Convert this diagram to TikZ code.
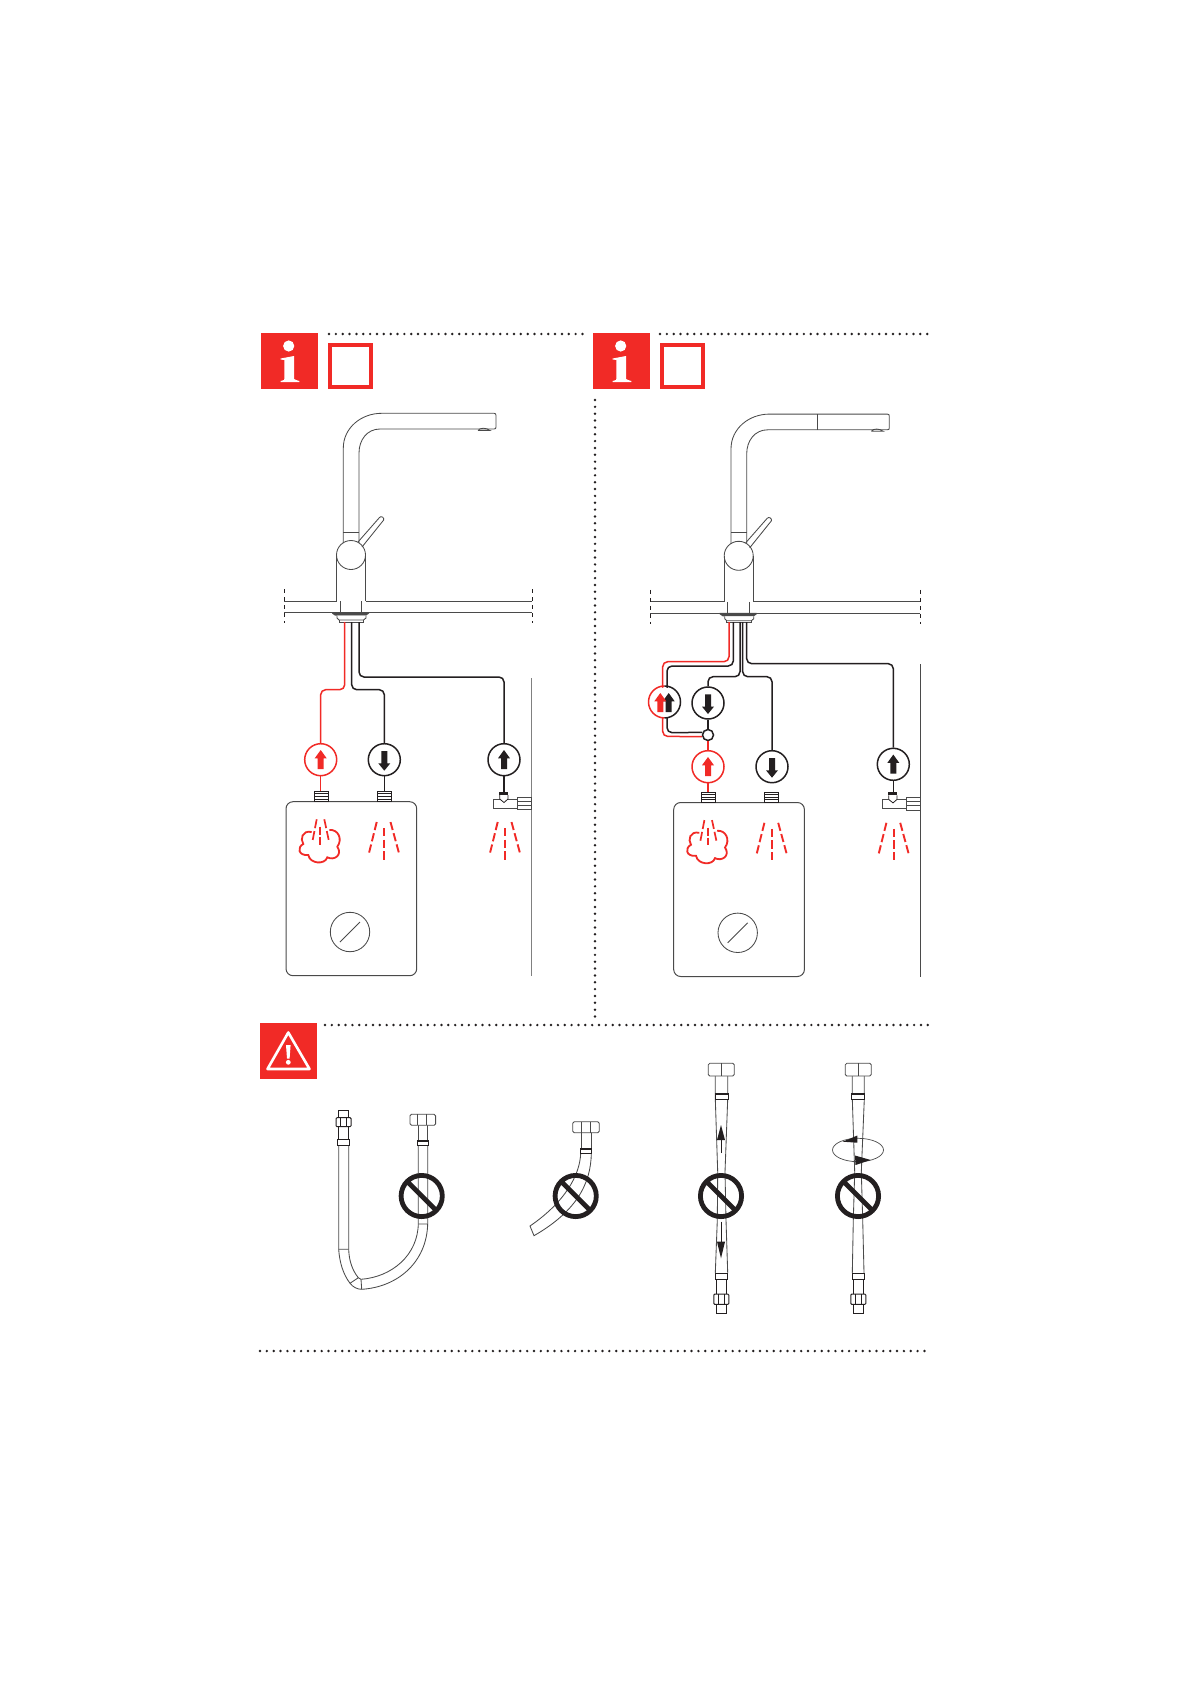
\documentclass[tikz,border=0pt]{standalone}
\definecolor{rd}{HTML}{F12A26}
\definecolor{ink}{HTML}{231F20}
\definecolor{ln}{HTML}{4A4A4A}
\tikzset{
  x=1pt,y=-1pt,
  thinline/.style={draw=ln,line width=0.85pt},
  hose/.style={draw=ink,line width=1.5pt,rounded corners=5pt},
  redhose/.style={draw=rd,line width=1.5pt,rounded corners=5pt},
  blackgauge/.style={circle,draw=ink,line width=1.5pt,minimum size=32pt,inner sep=0pt,fill=white},
  redgauge/.style={circle,draw=rd,line width=1.5pt,minimum size=32pt,inner sep=0pt,fill=white},
  dots/.style={draw=ink,line width=2.7pt,line cap=round,dash pattern=on 0pt off 6.85pt},
  spray/.style={draw=rd,line width=1.9pt,dash pattern=on 8.3pt off 3.3pt},
  steamdash/.style={draw=rd,line width=1.7pt,dash pattern=on 9pt off 3pt},
  steamdashb/.style={draw=rd,line width=1.7pt,dash pattern=on 8pt off 2pt},
  ticks/.style={draw=ink,line width=0.8pt,dash pattern=on 4pt off 4pt},
  uparr/.pic={\fill[pic actions] (0,-9.7)--(6,-1.4)--(3,-1.4)--(3,9.3)--(-3,9.3)--(-3,-1.4)--(-6,-1.4)--cycle;},
  dnarr/.pic={\fill[pic actions] (0,11)--(6,3.6)--(3,3.6)--(3,-8.7)--(-3,-8.7)--(-3,3.6)--(-6,3.6)--cycle;},
  nosign/.pic={\draw[ink,line width=4.8pt] (0,0) circle[radius=20.6pt] (-14.5,-14.5)--(14.5,14.5);}
}
\newcommand\infosign[1]{%
  \begin{scope}[shift={(#1,0)}]
    \fill[rd] (261,333) rectangle (318,389);
    \fill[white] (288.7,346) circle[radius=5.6pt];
    \fill[white] (280.7,358.5)--(294,356)--(294,379)--(296,380)--(299.3,381)--(299.3,382)--(280.7,382)--(280.7,381)--(284,380)--(284.3,379)--(284.3,360)--(280.7,359.5)--cycle;
    \draw[rd,line width=4pt] (330,345) rectangle (371,387);
  \end{scope}}
\newcommand\tapbody[1]{%
  \draw[thinline] (343.3,543)--(343.3,448) .. controls (343.3,428) and (361,413.3) .. (381.7,413.3)
     --(#1-2,413.3) .. controls (#1-0.5,413.3) and (#1,414) .. (#1,415.5)--(#1,427) .. controls (#1,428.5) and (#1-0.5,429) .. (#1-2,429)
     --(380,429) .. controls (367,429) and (359,440) .. (359,453)--(359,543);
  \draw[thinline] (343.3,532)--(359,532);
  \draw[thinline] (#1-18,430.5) .. controls (#1-16,427.5) and (#1-10,427.5) .. (#1-6,430.5)--(#1-18,430.5);
  \draw[thinline] (358,542)--(379.5,517.5) .. controls (381,515.5) and (384.5,517.5) .. (383.7,520)--(362,547);
  \draw[thinline] (351,555) circle[radius=14.5pt];
  \draw[thinline] (336.5,555)--(336.5,601) (365.5,555)--(365.5,601) (340,601)--(340,612) (361.7,601)--(361.7,612);
  \fill[ln] (332,612)--(369,612)--(369,613.5)--(366,615.5)--(335,615.5)--(332,613.5)--cycle;
  \draw[thinline,fill=white] (337,615.5)--(337,618)--(339,620)--(363.5,620)--(366,618)--(366,615.5);
  \draw[thinline] (339,620)--(339,622)--(363.5,622)--(363.5,620);}
\newcommand\threads[2]{%
  \draw[ink,line width=0.9pt,fill=white] (#1,#2) rectangle (#1+14,#2+10.5);
  \foreach \k in {2.6,5.2,7.8}{\draw[ink,line width=0.9pt] (#1,#2+\k)--(#1+14,#2+\k);}}
\newcommand\spraycone[1]{%
  \draw[spray] (#1,828)--(#1,859.5);
  \draw[spray] (#1-7.3,822)--(#1-15.5,855);
  \draw[spray] (#1+6.5,822)--(#1+15.5,855);}
\newcommand\steamcloud{%
  \draw[steamdash] (316.7,819.3)--(312.7,840);
  \draw[steamdashb] (320,826.7)--(320,844.5);
  \draw[steamdash] (324.3,819.3)--(328.7,840);
  \draw[draw=rd,line width=1.8pt,shift={(320,845)}] (-8.3,-13) .. controls (-18,-15) and (-20,-6) .. (-16.7,-1)
     .. controls (-23,2) and (-22,11) .. (-11.7,10)
     .. controls (-10,19) and (5,20) .. (7.3,12.3)
     .. controls (14,16) and (23,10) .. (17.3,1.7)
     .. controls (23,-6) and (18,-16) .. (9.3,-15);}
\newcommand\heater{%
  \draw[draw=ln,line width=1pt,rounded corners=7pt] (286,801.7) rectangle (416.7,975.7);
  \steamcloud
  \spraycone{384}
  \draw[thinline] (350,932) circle[radius=19.7pt];
  \draw[thinline] (340,942)--(360,922);}
\newcommand\teevalve{%
  \draw[thinline,fill=white] (493.3,799) rectangle (517.3,808);
  \draw[thinline,fill=white] (517.3,797.3) rectangle (531.7,809.7);
  \draw[thinline] (517.3,801.5)--(531.7,801.5) (517.3,805.5)--(531.7,805.5);
  \draw[ink,line width=0.8pt,fill=white] (499.7,795)--(499.7,799)--(504,802.5)--(508,799)--(508,795);
  \fill[ink] (499.3,791.7) rectangle (508,795);}
\newcommand\femaleend[5]{% cx, ytop, half width, height, inner lines
  \begin{scope}[shift={(#1,#2)}]
    \draw[thinline,rounded corners=1.5pt,fill=white] (-#3,0) rectangle (#3,#4);
    \foreach \k in {#5}{\draw[thinline] (\k,0)--(\k,#4);}
  \end{scope}}
\newcommand\maleend[3]{% cx, y, yscale
  \begin{scope}[shift={(#1,#2)},yscale=#3]
    \draw[ink,line width=0.8pt,fill=white] (-6.2,0) rectangle (6.2,5.7);
    \draw[ink,line width=0.8pt] (-5,5.7)--(-5,18.3) (5,5.7)--(5,18.3);
    \draw[ink,line width=1pt,rounded corners=1pt,fill=white] (-7.5,18.3) rectangle (7.5,27.3);
    \draw[ink,line width=0.8pt] (-3,18.3)--(-3,27.3) (3,18.3)--(3,27.3);
    \draw[ink,line width=0.8pt,fill=white] (-5,27.3) rectangle (5,35);
  \end{scope}}
\begin{document}
\begin{tikzpicture}
\useasboundingbox (0,0) rectangle (1191,1685);
\fill[white] (0,0) rectangle (1191,1685);
% dotted rules
\coordinate (d1a) at (329,334); \coordinate (d1b) at (586,334);
\coordinate (d2a) at (660,334); \coordinate (d2b) at (929,334);
\coordinate (d3a) at (595,400); \coordinate (d3b) at (595,1017);
\coordinate (d4a) at (325,1025); \coordinate (d4b) at (929,1025);
\coordinate (d5a) at (260,1351); \coordinate (d5b) at (929,1351);
\path[dots] (d1a)--(d1b) (d2a)--(d2b) (d3a)--(d3b) (d4a)--(d4b) (d5a)--(d5b);
% sign blocks
\infosign{0}
\infosign{332}
\fill[rd] (260,1023) rectangle (317,1079);
\draw[white,line width=2.6pt,line join=round] (288.3,1032.5)--(267.5,1069)--(309.5,1069)--cycle;
\fill[white] (286,1045) -- (290.6,1045) -- (289.6,1058.5) -- (287,1058.5) -- cycle;
\fill[white] (288.3,1062.3) circle[radius=2.4pt];
%%%% LEFT PANEL
\tapbody{496}
\draw[thinline] (284.3,601)--(336.5,601) (365.5,601)--(532.3,601) (284.3,612.3)--(532.3,612.3);
\path[ticks] (284.3,589)--(284.3,623) (532.3,589)--(532.3,623);
\draw[thinline,draw=ln!70] (531.7,678)--(531.7,975.7);
\heater
\spraycone{505}
\threads{314}{791.3}
\threads{377.3}{791.3}
\teevalve
\node[redgauge] (La) at (320.7,759.7) {};
\node[blackgauge] (Lb) at (384.3,759.7) {};
\node[blackgauge] (Lc) at (504,759.7) {};
\coordinate (Lr0) at (344.7,622); \coordinate (Lb0) at (351.7,622); \coordinate (Lc0) at (359,622);
\draw[redhose] (Lr0)--(344.7,689.7)--(320.7,689.7)--(La.north);
\draw[hose] (Lb0)--(351.7,689.7)--(384.3,689.7)--(Lb.north);
\draw[hose] (Lc0)--(359,677)--(504,677)--(Lc.north);
\draw[rd,line width=1.4pt] (La.south)--(320.7,791.3);
\draw[ink,line width=1.4pt] (Lb.south)--(384.3,791.3);
\draw[ink,line width=1.4pt] (Lc.south)--(504,791.7);
\pic[rd] at (La.center) {uparr};
\pic[ink] at (Lb.center) {dnarr};
\pic[ink] at (Lc.center) {uparr};
%%%% RIGHT PANEL
\begin{scope}[shift={(387.7,0.8)}]
  \tapbody{501.6}
  \draw[thinline] (429.6,413.3)--(429.6,429);
  \draw[thinline] (262.6,600.9)--(336.5,600.9) (365.5,600.9)--(532.6,600.9) (262.6,612.5)--(532.6,612.5);
  \path[ticks] (262.6,589)--(262.6,623) (532.6,589)--(532.6,623);
  \heater
  \spraycone{506}
  \threads{313.6}{791.3}
  \threads{376.6}{791.3}
\end{scope}
\begin{scope}[shift={(389,0.4)}]
  \teevalve
\end{scope}
\draw[thinline] (920.3,664)--(920.3,976.7);
\node[blackgauge,draw=none,fill=none] (Rd) at (664.5,702.7) {};
\node[blackgauge] (Re) at (708,703) {};
\node[redgauge] (Rf) at (708,766.7) {};
\node[blackgauge] (Rg) at (772,766.7) {};
\node[blackgauge] (Rh) at (893.3,764.3) {};
\node[circle,draw=ink,line width=1.5pt,minimum size=11pt,inner sep=0pt,fill=white] (Rj) at (708,735) {};
\coordinate (Rr0) at (729,622); \coordinate (Rs0) at (733.3,622); \coordinate (Rt0) at (740,622); \coordinate (Ru0) at (742.7,622); \coordinate (Rv0) at (746.7,622);
\draw[redhose] (Rr0)--(729,661.7)--(662.7,661.7)--(662.7,736.4)--(Rj.195);
\draw[hose] (Rs0)--(733.3,666)--(667,666)--(667,732.7)--(Rj.155);
\draw[hose] (Rt0)--(740,676.7)--(708,676.7)--(Re.north);
\draw[hose] (Ru0)--(742.7,676.7)--(772,676.7)--(Rg.north);
\draw[hose] (Rv0)--(746.7,663.7)--(893.3,663.7)--(Rh.north);
\fill[white] (Rd) circle[radius=15pt];
\draw[rd,line width=1.5pt] (Rd.north) arc[start angle=90,end angle=270,radius=16pt];
\draw[ink,line width=1.5pt] (Rd.north) arc[start angle=90,end angle=-90,radius=16pt];
\draw[ink,line width=1.5pt] (Re.south)--(Rj.north);
\draw[rd,line width=1.5pt] (Rj.south)--(Rf.north) (Rf.south)--(708,792);
\draw[ink,line width=1.4pt] (Rh.south)--(893.3,792);
\pic[ink] at ([xshift=4.2pt]Rd.center) {uparr};
\pic[rd] at ([xshift=-4.2pt]Rd.center) {uparr};
\pic[ink] at (Re.center) {dnarr};
\pic[rd] at (Rf.center) {uparr};
\pic[ink] at (Rg.center) {dnarr};
\pic[ink] at (Rh.center) {uparr};
%%%% HOSES
% hose 1
\draw[thinline] (338.7,1145)--(338.7,1249.3) .. controls (339.5,1262) and (343,1274) .. (350,1283.3)
   .. controls (353,1287) and (357,1289.3) .. (361.7,1289.3) .. controls (398,1287) and (427,1262) .. (427.7,1223.3)--(427.7,1146);
\draw[thinline] (348.7,1145)--(348.7,1249.3) .. controls (349,1260) and (352,1270) .. (358.3,1277.7)--(361,1279.3)
   .. controls (392,1277) and (418,1255) .. (418.3,1223.3)--(418.3,1146);
\draw[thinline] (338.7,1249.3)--(348.7,1249.3) (350,1283.3)--(358.3,1277.7) (361,1279.3)--(361.7,1289.3) (418.3,1224)--(427.7,1224);
\maleend{343.5}{1145}{-1}
\draw[thinline] (418.3,1125)--(418.3,1141) (427.7,1125)--(427.7,1141);
\draw[ink,line width=0.8pt,fill=white] (417.3,1140.7) rectangle (428.7,1145.7);
\fill[ink] (417.3,1140.7) rectangle (428.7,1142.2);
\femaleend{422.8}{1114.3}{12.8}{11}{-5,4}
\pic at (421.7,1196) {nosign};
% hose 2
\draw[thinline] (591.3,1153) .. controls (591,1185) and (575,1212) .. (534,1235.7)--(530,1226) .. controls (565,1202) and (580,1175) .. (580.7,1153);
\draw[thinline] (581,1132)--(581,1149) (591.3,1132)--(591.3,1149);
\draw[ink,line width=0.8pt,fill=white] (580.7,1148.3) rectangle (591.6,1153.3);
\fill[ink] (580.7,1148.3) rectangle (591.6,1150);
\femaleend{586}{1121.7}{13.3}{11}{-5,4.5}
\pic at (575.7,1196) {nosign};
% hose 3
\draw[thinline] (715.3,1076)--(715.3,1099)--(717.7,1172)--(717.3,1220)--(715.3,1273);
\draw[thinline] (727.7,1076)--(727.7,1099)--(725,1172)--(726,1220)--(727.7,1273);
\draw[ink,line width=0.8pt,fill=white] (715,1093) rectangle (728,1099);
\fill[ink] (715,1093) rectangle (728,1095);
\femaleend{721.3}{1063.3}{13}{12.7}{0}
\maleend{721.3}{1273}{1.15}
\draw[ink,line width=0.6pt] (721,1153)--(721,1136);
\fill[ink] (721,1125)--(725,1140)--(717,1140)--cycle;
\draw[ink,line width=0.6pt] (721,1221.7)--(721,1244);
\fill[ink] (721,1258.3)--(725,1241.7)--(717,1241.7)--cycle;
\pic at (721,1196) {nosign};
% hose 4
\draw[thinline] (852.3,1076)--(852.3,1099)--(854.7,1172)--(853.3,1220)--(852.3,1273);
\draw[thinline] (864.3,1076)--(864.3,1099)--(861.3,1172)--(862.7,1220)--(864,1273);
\draw[ink,line width=0.8pt,fill=white] (851.7,1093) rectangle (864.7,1099);
\fill[ink] (851.7,1093) rectangle (864.7,1095);
\femaleend{858.3}{1063.3}{13}{12.7}{0}
\maleend{858.3}{1273}{1.15}
\draw[thinline,line width=0.7pt] (858,1150) ellipse[x radius=25.5pt,y radius=11.7pt];
\fill[ink] (842.7,1141.7)--(857.3,1135.5)--(857.3,1142.7)--cycle;
\fill[ink] (870.7,1160)--(855,1155.5)--(855.5,1165)--cycle;
\pic at (858,1196) {nosign};
\end{tikzpicture}
\end{document}
